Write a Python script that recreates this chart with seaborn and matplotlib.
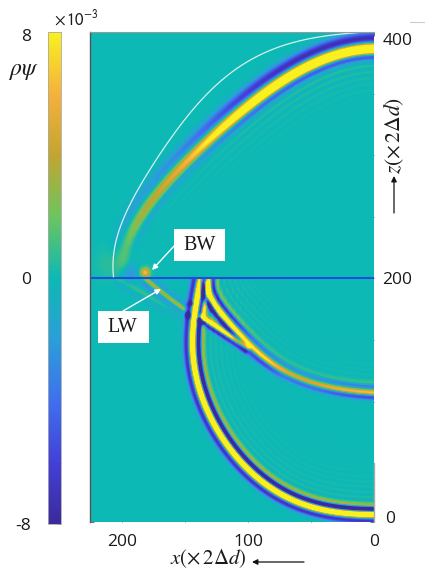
#!/usr/bin/env python3
# coding=utf-8
from matplotlib import pyplot as plt
from matplotlib.colors import LinearSegmentedColormap
from matplotlib.lines import Line2D
from matplotlib.patches import Rectangle
from matplotlib.transforms import ScaledTranslation
import numpy as np
import seaborn as sns

# wave fronts (x, z in units of 2*delta d, amplitude in 1e-3)
upper_x = [199.3, 195.3, 185.8, 169.9, 151.6, 128.5, 102.3, 75.3, 49.0, 22.8, 0.0, -14.0]
upper_z = [212, 231, 249, 271, 293, 314, 339, 358, 374, 384, 386, 386]
upper_a = [0.5, 1.8, 3.5, 4.5, 6, 9, 13, 15, 16, 16, 16, 16]

outer_x = [-14.0, 0.0, 22.8, 49.0, 75.3, 102.3, 128.5, 135.7, 142.0, 144.4, 140.4, 138.0]
outer_z = [8, 8, 9.6, 14.4, 25.8, 46.8, 86.5, 101, 124, 154, 180.5, 199]
outer_a = [16] * 12

inner_x = [-14.0, 0.0, 22.8, 49.0, 75.3, 99.0, 115.0, 128.5, 132.5]
inner_z = [107.6, 107.6, 109, 116, 127, 147, 164, 182, 199]
inner_a = [7, 7, 6.5, 5, 5.5, 8, 14, 16, 16]

lw_strong_x = [100.5, 118.0, 136.5]
lw_strong_z = [144, 156, 168.4]
lw_strong_a = [10, 14, 14]

lw_weak_x = [151.5, 165.0, 180.0]
lw_weak_z = [175.7, 186.0, 198.4]
lw_weak_a = [4.5, 4.5, 5]

lw_tail_x = [74.5, 86.0, 98.0]
lw_tail_z = [124, 133, 141.7]
lw_tail_a = [1.5, 2.5, 3]

lw_head_x = [151.5, 180.0, 202.0]
lw_head_z = [170.0, 186.0, 199.0]
lw_head_a = [0.8, 1.0, 1.0]

link_x = [136.5, 134.5, 132.5]
link_z = [170, 183, 196]
link_a = [12, 12, 12]

# small spots: x, z, amplitude, spread
spot_x = [181.8, 193.8, 147.6, 145.2, 134.9, 205.0, 124.5]
spot_z = [204.9, 204.0, 170.0, 179.7, 164.3, 212.0, 168.4]
spot_a = [6.5, -2.5, -10, -7, -8, 1.0, 3.0]
spot_s = [2.6, 5.0, 1.7, 1.2, 1.2, 9.0, 4.0]

# thin white arc
arc_x = [207.4, 205.8, 199.3, 183.4, 159.5, 128.5, 102.3, 75.3, 49.0, 22.8, 5.0]
arc_z = [201.6, 217, 249.4, 281.8, 311.8, 357.2, 374.2, 387, 395.1, 399.2, 400]

x_ticks = [200, 150, 100, 50, 0]
x_labels = ["200", "", "100", "", "0"]
z_ticks = [400, 350, 300, 250, 200, 150, 100, 50, 0]
z_labels = ["400", "", "", "", "200", "", "", "", "0"]
cbar_ticks = [8, 6, 4, 2, 0, -2, -4, -6, -8]
cbar_labels = ["8", "", "", "", "0", "", "", "", "-8"]

cmap_colors = ["#3b2a9c", "#4340d8", "#3f70ee", "#2a9fd8", "#0cb9b5",
               "#6cc55e", "#c2a530", "#f5b13c", "#f9f11f"]

X_MAX, Z_TOP, Z_BOTTOM = 225.5, 400.0, 2.3
NX, NY = 284, 490


def col(x):
    return (X_MAX - np.asarray(x, dtype=float)) / X_MAX * NX


def row(z):
    return (Z_TOP - np.asarray(z, dtype=float)) / (Z_TOP - Z_BOTTOM) * NY


def smooth_path(xs, zs, amps, n=320, degree=6):
    # a smooth curve through the traced points, they are only good to a pixel or two
    xs, zs, amps = [np.asarray(v, dtype=float) for v in (xs, zs, amps)]
    s = np.r_[0, np.cumsum(np.hypot(np.diff(xs), np.diff(zs)))]
    t = np.linspace(0, s[-1], n)
    deg = min(degree, len(xs) - 1)
    px = np.polynomial.Polynomial.fit(s, xs, deg)(t)
    pz = np.polynomial.Polynomial.fit(s, zs, deg)(t)
    win = 31
    pa = np.convolve(np.pad(np.interp(t, s, amps), win, mode="edge"),
                     np.ones(win) / win, "same")[win:-win]
    return px, pz, pa


def front(gx, gz, xs, zs, amps, lobes, ring=None, end_fade=5.0):
    px, pz, pa = smooth_path(xs, zs, amps)
    tx, tz = np.gradient(px), np.gradient(pz)
    norm = np.hypot(tx, tz)
    tx, tz = tx / norm, tz / norm
    d = np.zeros_like(gx)
    a = np.zeros_like(gx)
    for i in range(gx.shape[0]):
        dist = (gx[i, :, None] - px) ** 2 + (gz[i, :, None] - pz) ** 2
        k = dist.argmin(axis=1)
        dx, dz = gx[i] - px[k], gz[i] - pz[k]
        d[i] = -tz[k] * dx + tx[k] * dz    # > 0 on the inner side
        along = tx[k] * dx + tz[k] * dz
        over = np.where((k == 0) & (along < 0), -along, 0.0)
        over = np.where((k == len(px) - 1) & (along > 0), along, over)
        a[i] = pa[k] * np.exp(-(over / end_fade) ** 2)
    f = sum(w * np.exp(-((d - p) / s) ** 2 / 2) for p, s, w in lobes)
    if ring:
        start, period, decay, weight = ring
        past = np.clip(d - start, 0, None)
        f = f + np.where(d > start,
                         weight * np.cos(2 * np.pi * past / period) * np.exp(-past / decay),
                         0.0)
    return a * f


def build_field():
    gx, gz = np.meshgrid(X_MAX - (np.arange(NX) + 0.5) / NX * X_MAX,
                         Z_TOP - (np.arange(NY) + 0.5) / NY * (Z_TOP - Z_BOTTOM))
    top = gz >= 200
    up = front(gx, gz, upper_x, upper_z, upper_a,
               [(0, 3.3, 1.0), (-8.0, 3.6, -0.5), (6.5, 2.0, -0.42)],
               ring=(9, 5.0, 16, 0.05), end_fade=8)
    low = front(gx, gz, outer_x, outer_z, outer_a,
                [(0, 2.1, 1.0), (-4.6, 2.0, -0.5), (4.4, 1.5, -0.85), (8.0, 1.2, 0.25)],
                ring=(10, 4.2, 20, 0.03))
    low = low + front(gx, gz, inner_x, inner_z, inner_a,
                      [(0, 1.7, 1.0), (-3.8, 1.7, -0.85), (4.8, 1.5, -0.5), (7.8, 1.2, 0.2)],
                      ring=(10, 4.2, 22, 0.035))
    low = low + front(gx, gz, lw_strong_x, lw_strong_z, lw_strong_a,
                      [(0, 1.5, 1.0), (-3.2, 1.6, -0.6)], end_fade=2.5)
    low = low + front(gx, gz, lw_weak_x, lw_weak_z, lw_weak_a,
                      [(0, 1.5, 1.0), (-3.4, 2.0, -0.55), (3.4, 2.0, -0.4)], end_fade=2.5)
    low = low + front(gx, gz, lw_tail_x, lw_tail_z, lw_tail_a,
                      [(0, 1.8, 1.0), (-3.6, 2.0, -0.7)], end_fade=8)
    low = low + front(gx, gz, lw_head_x, lw_head_z, lw_head_a,
                      [(0, 1.6, 1.0), (-3.6, 2.0, -0.8)], end_fade=4)
    low = low + front(gx, gz, link_x, link_z, link_a, [(0, 1.4, 1.0)], end_fade=2.0)
    field = np.where(top, up, low)
    for x0, z0, a0, s0 in zip(spot_x, spot_z, spot_a, spot_s):
        field = field + a0 * np.exp(-((gx - x0) ** 2 + (gz - z0) ** 2) / (2 * s0 ** 2))
    return field


def nudge(label, dx=0, dy=0):
    # shift a tick label by screen pixels (dy > 0 is downwards)
    label.set_transform(label.get_transform()
                        + ScaledTranslation(dx / 100, -dy / 100, fig.dpi_scale_trans))


def fig_xy(px, py):
    return px / 425, 1 - py / 571


sns.set_style("white")
plt.rcParams["font.family"] = ["Open Sans", "DejaVu Sans"]
plt.rcParams["mathtext.fontset"] = "stix"

fig = plt.figure(figsize=(4.25, 5.71), dpi=100)
ax = fig.add_axes([90 / 425, 1 - 522 / 571, 284 / 425, 490 / 571])
cax = fig.add_axes([47.5 / 425, 1 - 524 / 571, 13.5 / 425, 492 / 571])
cmap = LinearSegmentedColormap.from_list("rho_psi", cmap_colors, N=512)

sns.heatmap(build_field(), ax=ax, cbar_ax=cax, cmap=cmap, vmin=-8, vmax=8,
            xticklabels=False, yticklabels=False, rasterized=True)

# axes, ticks
ax.set_xticks(col(x_ticks), x_labels)
ax.set_yticks(np.clip(row(z_ticks), 0, NY), z_labels)
ax.tick_params(axis="both", which="major", direction="in", length=3, width=0.6,
               color="#555555", labelsize=12.5, labelcolor="#1a1a1a",
               left=True, right=True, top=True, bottom=True,
               labelleft=False, labelright=True, labeltop=False, labelbottom=True)
ax.tick_params(axis="x", pad=9, rotation=0)
ax.tick_params(axis="y", pad=6, rotation=0)
for side, color, width in [("left", "#555555", 1.0), ("top", "#999999", 0.8)]:
    ax.spines[side].set_visible(True)
    ax.spines[side].set_color(color)
    ax.spines[side].set_linewidth(width)
for side in ["right", "bottom"]:
    ax.spines[side].set_visible(False)

for label in ax.get_yticklabels():
    if label.get_text() == "400":
        nudge(label, dy=7)
    elif label.get_text() == "0":
        nudge(label, dx=3, dy=-5)

# colorbar
cbar = ax.collections[0].colorbar
cbar.set_ticks(cbar_ticks, labels=cbar_labels)
cax.tick_params(axis="y", direction="in", length=3, width=0.6, color="#555555",
                left=False, right=True, labelleft=True, labelright=False,
                labelsize=12.5, labelcolor="#1a1a1a", pad=12)
cbar.outline.set_edgecolor("#aaaaaa")
cbar.outline.set_linewidth(0.6)
cbar.outline.set_visible(True)
for label in cax.get_yticklabels():
    if label.get_text() == "8":
        nudge(label, dy=3)

# interface line and the arc
ax.plot([0, NX], row([200, 200]), color="#1c4fdc", lw=1.5)
smooth_ax, smooth_az, _ = smooth_path(arc_x, arc_z, np.zeros(len(arc_x)))
ax.plot(col(smooth_ax), row(smooth_az), color="#d8f0ee", lw=0.9)
ax.plot(col([0, 0]), row([50, Z_BOTTOM]), color="#aaaaaa", lw=1.0, clip_on=False)

# boxes with the labels
ax.add_patch(Rectangle((84, 197), 51, 32, facecolor="white", edgecolor="none", zorder=4))
ax.add_patch(Rectangle((8, 279), 51, 32, facecolor="white", edgecolor="none", zorder=4))
ax.text(109.5, 213, "BW", family="Liberation Serif", fontsize=14.5, color="#1a1a1a",
        ha="center", va="center", zorder=5)
ax.text(32, 295, "LW", family="Liberation Serif", fontsize=14.5, color="#1a1a1a",
        ha="center", va="center", zorder=5)

arrow_white = dict(arrowstyle="-|>", color="white", lw=1.0, mutation_scale=8,
                   shrinkA=0, shrinkB=0)
arrow_black = dict(arrowstyle="-|>", color="#111111", lw=0.9, mutation_scale=8,
                   shrinkA=0, shrinkB=0)
for tail, head, style in [((175, 245), (152, 270), arrow_white),
                          ((123, 311), (161, 289), arrow_white),
                          ((304, 562), (252, 562), arrow_black),
                          ((394, 213), (394, 176), arrow_black)]:
    ax.annotate("", xy=fig_xy(*head), xytext=fig_xy(*tail), xycoords="figure fraction",
                textcoords="figure fraction", arrowprops=style, zorder=6)

# outer texts
fig.text(*fig_xy(76, 19), r"$\times\,\mathsf{10}^{\mathsf{-3}}$", fontsize=12,
         color="#1a1a1a", ha="center", va="center")
fig.text(*fig_xy(24, 70), r"$\rho\psi$", fontsize=17, color="#1a1a1a",
         ha="center", va="center")
fig.text(*fig_xy(208, 559), r"$x(\times\,2\Delta d)$", fontsize=15, color="#1a1a1a",
         ha="center", va="center")
fig.text(*fig_xy(394, 135), r"$z(\times\,2\Delta d)$", fontsize=15.5, color="#1a1a1a",
         rotation=90, ha="center", va="center")
fig.add_artist(Line2D([410 / 425, 425 / 425], [1 - 22 / 571] * 2, color="#cccccc", lw=0.8))

fig.savefig("out.png", dpi=100)
